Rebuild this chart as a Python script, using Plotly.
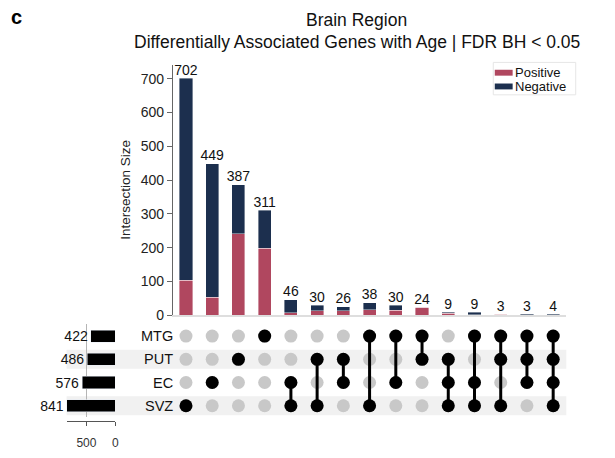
import plotly.graph_objects as go

W, H = 615, 458

# --- data -------------------------------------------------------------
sets = ["SVZ", "EC", "PUT", "MTG"]            # bottom to top in the matrix
set_sizes = [841, 576, 486, 422]

# membership of each intersection column (left to right)
combos = [
    ["SVZ"], ["EC"], ["PUT"], ["MTG"],
    ["EC", "SVZ"], ["PUT", "SVZ"], ["PUT", "EC"],
    ["MTG", "SVZ"], ["MTG", "EC"], ["MTG", "PUT"],
    ["PUT", "EC", "SVZ"], ["MTG", "EC", "SVZ"], ["MTG", "PUT", "SVZ"],
    ["MTG", "PUT", "EC"], ["MTG", "PUT", "EC", "SVZ"],
]
totals = [702, 449, 387, 311, 46, 30, 26, 38, 30, 24, 9, 9, 3, 3, 4]
positive = [104, 53, 242, 198, 8, 14, 13, 17, 15, 24, 6, 2, 3, 0, 0]
negative = [t - p for t, p in zip(totals, positive)]

series_names = ["Positive", "Negative"]
POS_COLOR = "#b0475f"
NEG_COLOR = "#1c2f4e"
FONT = "Arial, Liberation Sans, sans-serif"


def px(x):
    return x / W


def py(y):
    return 1 - y / H


cols = list(range(len(totals)))
fig = go.Figure()

# --- stacked intersection bars ---------------------------------------
for name, vals, color in zip(series_names, [positive, negative], [POS_COLOR, NEG_COLOR]):
    fig.add_trace(go.Bar(x=cols, y=vals, name=name, marker_color=color,
                         marker_line=dict(color="rgba(255,255,255,0.5)", width=0.8),
                         width=0.5, showlegend=False, xaxis="x", yaxis="y"))
fig.add_trace(go.Scatter(x=cols, y=totals, mode="text", text=[str(t) for t in totals],
                         textposition="top center",
                         textfont=dict(size=14, color="#111", family=FONT),
                         showlegend=False, cliponaxis=False, hoverinfo="skip",
                         xaxis="x", yaxis="y"))

# --- matrix: grey background dots, then connectors and filled dots ---
row_of = {s: i for i, s in enumerate(sets)}
gx, gy = [], []
for c in cols:
    for s in sets:
        gx.append(c)
        gy.append(row_of[s])
fig.add_trace(go.Scatter(x=gx, y=gy, mode="markers",
                         marker=dict(size=13, color="#c8c8c8"),
                         showlegend=False, hoverinfo="skip", xaxis="x2", yaxis="y2"))
for c, members in zip(cols, combos):
    rows = sorted(row_of[m] for m in members)
    if len(rows) > 1:
        fig.add_trace(go.Scatter(x=[c, c], y=[rows[0], rows[-1]], mode="lines",
                                 line=dict(color="black", width=3),
                                 showlegend=False, hoverinfo="skip",
                                 xaxis="x2", yaxis="y2"))
    fig.add_trace(go.Scatter(x=[c] * len(rows), y=rows, mode="markers",
                             marker=dict(size=13, color="black"),
                             showlegend=False, hoverinfo="skip", xaxis="x2", yaxis="y2"))

# --- set size bars ---------------------------------------------------
fig.add_trace(go.Bar(x=set_sizes, y=[row_of[s] for s in sets], orientation="h",
                     marker_color="black", width=0.52,
                     text=[str(v) for v in set_sizes], textposition="outside",
                     textfont=dict(size=14, color="#111", family=FONT),
                     constraintext="none", cliponaxis=False,
                     showlegend=False, xaxis="x3", yaxis="y3"))

# --- striped rows behind the matrix ----------------------------------
shapes = []
for s in ["PUT", "SVZ"]:
    r = row_of[s]
    shapes.append(dict(type="rect", xref="paper", yref="y2", x0=px(67), x1=px(570),
                       y0=r - 0.41, y1=r + 0.41, fillcolor="#f1f1f1",
                       line=dict(width=0), layer="below"))

# --- compact legend box ----------------------------------------------
shapes.append(dict(type="rect", xref="paper", yref="paper",
                   x0=px(496.5), x1=px(579.5), y0=py(96.5), y1=py(63.5),
                   fillcolor="white", line=dict(color="#e6e6e6", width=1)))
annotations = []
for i, (name, color) in enumerate(zip(series_names, [POS_COLOR, NEG_COLOR])):
    yc = 74 + 14 * i
    shapes.append(dict(type="rect", xref="paper", yref="paper",
                       x0=px(498), x1=px(516), y0=py(yc + 3), y1=py(yc - 3),
                       fillcolor=color, line=dict(width=0)))
    annotations.append(dict(text=name, x=px(516.5), y=py(yc), xref="paper", yref="paper",
                            xanchor="left", yanchor="middle", showarrow=False,
                            font=dict(size=13, family=FONT, color="#111")))

annotations += [
    dict(text="<b>c</b>", x=px(9), y=py(17), xref="paper", yref="paper",
         xanchor="left", yanchor="middle", showarrow=False,
         font=dict(size=20, family=FONT, color="black")),
    dict(text="Brain Region", x=px(359), y=py(20), xref="paper", yref="paper",
         xanchor="center", yanchor="middle", showarrow=False,
         font=dict(size=17.5, family=FONT, color="#111")),
    dict(text="Differentially Associated Genes with Age | FDR BH < 0.05",
         x=px(359), y=py(43), xref="paper", yref="paper",
         xanchor="center", yanchor="middle", showarrow=False,
         font=dict(size=17.5, family=FONT, color="#111")),
    dict(text="Intersection Size", x=px(126), y=py(193), xref="paper", yref="paper",
         xanchor="center", yanchor="middle", textangle=-90, showarrow=False,
         font=dict(size=13.5, family=FONT, color="#222")),
]
for s in sets:
    annotations.append(dict(text=s, x=px(176), y=row_of[s], xref="paper", yref="y2",
                            xanchor="right", yanchor="middle", showarrow=False,
                            font=dict(size=14.5, family=FONT, color="#111")))

fig.update_layout(
    width=W, height=H,
    margin=dict(l=0, r=0, t=0, b=0),
    paper_bgcolor="white", plot_bgcolor="rgba(0,0,0,0)",
    barmode="stack", bargap=0.5, showlegend=False,
    font=dict(family=FONT, size=13, color="#222"),
    shapes=shapes, annotations=annotations,
    xaxis=dict(domain=[px(174), px(570)], range=[-0.5, len(cols) - 0.5],
               showticklabels=False, ticks="", showgrid=False, zeroline=False,
               showline=True, linecolor="#dedede", linewidth=2, fixedrange=True),
    yaxis=dict(domain=[py(321), py(66)], range=[0, 741], showgrid=False,
               zeroline=False, showline=True, linecolor="#666", linewidth=1,
               ticks="outside", ticklen=5, tickcolor="#666",
               tickvals=[0, 100, 200, 300, 400, 500, 600, 700],
               tickfont=dict(size=14, color="#222")),
    xaxis2=dict(domain=[px(174), px(570)], range=[-0.5, len(cols) - 0.5],
                anchor="y2", visible=False),
    yaxis2=dict(domain=[py(424.8), py(330.2)], range=[-0.5, 3.5],
                anchor="x2", visible=False),
    xaxis3=dict(domain=[px(67), px(116)], range=[845, 0], anchor="free",
                position=py(428), showline=True, linecolor="#555", linewidth=1,
                ticks="outside", ticklen=4, tickcolor="#555",
                tickvals=[500, 0], showgrid=True, gridcolor="#b5b5b5",
                gridwidth=1, zeroline=False, ticklabelstandoff=7,
                tickfont=dict(size=12, color="#333")),
    yaxis3=dict(domain=[py(424.8), py(330.2)], range=[-0.5, 3.5],
                anchor="x3", visible=False),
)

fig.write_html("out.html")
